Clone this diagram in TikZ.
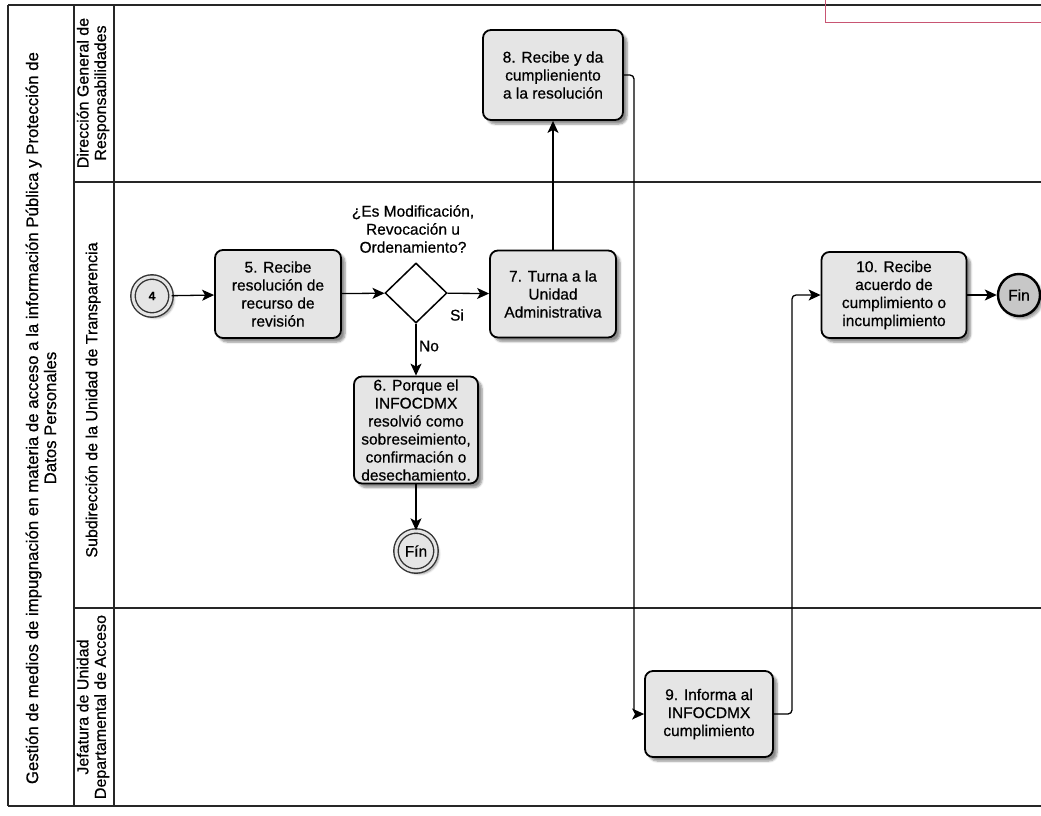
\documentclass[tikz,border=0pt]{standalone}
\usepackage{fontspec}
\setmainfont{Liberation Sans}[FakeBold=0.6]
\usetikzlibrary{arrows.meta,shapes.geometric,shadows.blur}

\tikzset{
  frameline/.style={line width=1.4pt, draw=black!85},
  task/.style={draw=black, line width=1.8pt, rounded corners=8pt, fill=black!10,
    align=center, inner sep=0pt, font=\fontsize{15.5}{18}\selectfont,
    blur shadow={shadow xshift=4pt, shadow yshift=-4pt, shadow blur steps=6, shadow opacity=45}},
  gate/.style={diamond, draw=black, line width=1.5pt, fill=white, minimum width=62pt,
    minimum height=60pt, inner sep=0pt, aspect=1},
  startev/.style={circle, draw=black!80, line width=1.4pt, double=black!10,
    double distance=3pt, fill=black!10, minimum size=38pt, inner sep=0pt,
    font=\bfseries\fontsize{12}{14}\selectfont,
    blur shadow={shadow xshift=3pt, shadow yshift=-3pt, shadow blur steps=5, shadow opacity=40}},
  endev/.style={circle, draw=black, line width=2.4pt, fill=black!22, minimum size=42pt,
    inner sep=0pt, font=\fontsize{15.5}{18}\selectfont,
    blur shadow={shadow xshift=3pt, shadow yshift=-3pt, shadow blur steps=5, shadow opacity=40}},
  flow/.style={line width=1.3pt, draw=black, rounded corners=4pt,
    -{Stealth[length=12pt,width=11pt,inset=3pt]}},
  lbl/.style={font=\fontsize{15.5}{18}\selectfont, align=center, inner sep=0pt},
  lanelbl/.style={rotate=90, font=\fontsize{16}{17.5}\selectfont, align=center, inner sep=0pt},
}

\begin{document}
\begin{tikzpicture}[x=1pt, y=-1pt]
\useasboundingbox (0,0) rectangle (1041,815);

% pool frame and lanes
\draw[frameline] (8,5) -- (1041,5);
\draw[frameline] (8,806) -- (1041,806);
\draw[frameline] (8,5) -- (8,806);
\draw[frameline] (74,5) -- (74,806);
\draw[frameline] (114,5) -- (114,806);
\draw[frameline] (74,182) -- (1041,182);
\draw[frameline] (74,608) -- (1041,608);

% note box at the upper right
\draw[draw={rgb,255:red,200;green,85;blue,115}, line width=0.9pt] (825,-2) -- (825,22) -- (1043,22);

% pool and lane titles
\node[lanelbl, font=\fontsize{16.8}{18}\selectfont] (pooltitle) at (41,418) {Gestión de medios de impugnación en materia de acceso a la información Pública y Protección de\\Datos Personales};
\node[lanelbl] (lane1) at (93,93) {Dirección General de\\Responsabilidades};
\node[lanelbl] (lane2) at (93,400) {Subdirección de la Unidad de Transparencia};
\node[lanelbl] (lane3) at (93,707) {Jefatura de Unidad\\Departamental de Acceso};

% activities and events
\node[startev] (s4) at (152,296) {4};
\node[task, minimum width=126pt, minimum height=88pt] (t5) at (278,294) {5. Recibe\\resolución de\\recurso de\\revisión};
\node[gate] (d) at (416,293) {};
\node[lbl] (q) at (413,229) {¿Es Modificación,\\Revocación u\\Ordenamiento?};
\node[task, minimum width=126pt, minimum height=87pt] (t7) at (553,294) {7. Turna a la\\Unidad\\Administrativa};
\node[task, minimum width=140pt, minimum height=90pt] (t8) at (553,75) {8. Recibe y da\\cumplieniento\\a la resolución};
\node[task, minimum width=124pt, minimum height=107pt] (t6) at (416,430) {6. Porque el\\INFOCDMX\\resolvió como\\sobreseimiento,\\confirmación o\\desechamiento.};
\node[startev, minimum size=40pt, font=\fontsize{15.5}{18}\selectfont] (fin1) at (416,551) {Fín};
\node[task, minimum width=128pt, minimum height=86pt] (t9) at (709,714) {9. Informa al\\INFOCDMX\\cumplimiento};
\node[task, minimum width=145pt, minimum height=86pt] (t10) at (894,295) {10. Recibe\\acuerdo de\\cumplimiento o\\incumplimiento};
\node[endev] (fin2) at (1019,295) {Fin};

\node[lbl] (si) at (457,315) {Si};
\node[lbl] (no) at (429,346) {No};

% routing points
\coordinate (k1) at (634,400);
\coordinate (k2) at (792,500);

% sequence flows
\draw[flow] (s4) -- (t5);
\draw[flow] (t5) -- (d);
\draw[flow] (d) -- (t7);
\draw[flow] (d) -- (t6);
\draw[flow] (t6) -- (fin1);
\draw[flow] (t7) -- (t8);
\draw[flow] (t8.east) -| (k1) |- (t9.west);
\draw[flow] (t9.east) -| (k2) |- (t10.west);
\draw[flow] (t10) -- (fin2);
\end{tikzpicture}
\end{document}
